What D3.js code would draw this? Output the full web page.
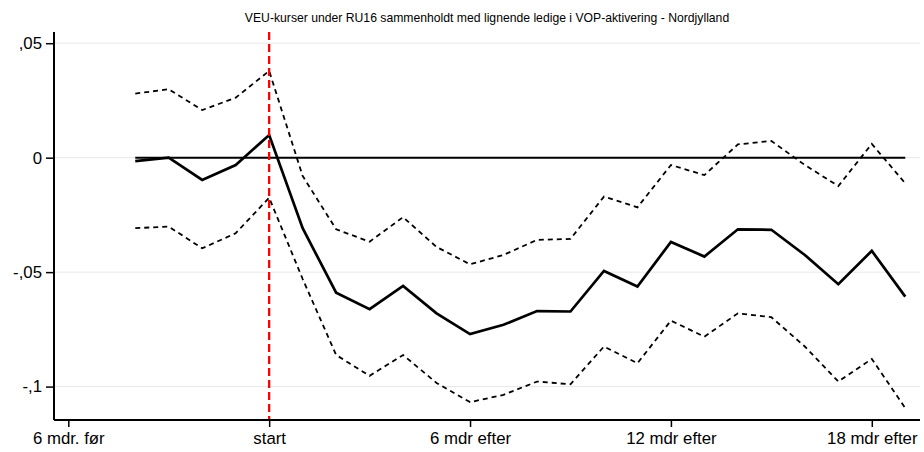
<!DOCTYPE html>
<html>
<head>
<meta charset="utf-8">
<script src="https://cdn.jsdelivr.net/npm/d3@7"></script>
<style>
  html, body { margin: 0; padding: 0; background: #fff; }
  svg { display: block; font-family: "Liberation Sans", Arial, sans-serif; }
</style>
</head>
<body>
<svg id="chart" width="924" height="452"></svg>
<script>
// Months relative to course start
const months = [-4,-3,-2,-1,0,1,2,3,4,5,6,7,8,9,10,11,12,13,14,15,16,17,18,19];
// Estimated effect
const estimate = [-0.0015,0.0000,-0.0097,-0.0032,0.0099,-0.0308,-0.0590,-0.0662,-0.0560,-0.0680,-0.0771,-0.0730,-0.0670,-0.0672,-0.0495,-0.0563,-0.0368,-0.0432,-0.0313,-0.0315,-0.0425,-0.0553,-0.0407,-0.0607];
// Upper confidence bound
const upper = [0.0280,0.0299,0.0208,0.0262,0.0379,-0.0080,-0.0313,-0.0367,-0.0260,-0.0390,-0.0466,-0.0425,-0.0359,-0.0355,-0.0170,-0.0217,-0.0032,-0.0076,0.0058,0.0073,-0.0032,-0.0124,0.0060,-0.0112];
// Lower confidence bound
const lower = [-0.0308,-0.0301,-0.0396,-0.0330,-0.0175,-0.0530,-0.0862,-0.0953,-0.0862,-0.0984,-0.1068,-0.1036,-0.0978,-0.0990,-0.0825,-0.0898,-0.0712,-0.0782,-0.0680,-0.0697,-0.0825,-0.0978,-0.0879,-0.1094];

const xTicks = [-6, 0, 6, 12, 18];
const xTickLabels = ["6 mdr. før", "start", "6 mdr efter", "12 mdr efter", "18 mdr efter"];
const yTicks = [0.05, 0, -0.05, -0.1];
const yTickLabels = [",05", "0", "-,05", "-,1"];
const title = "VEU-kurser under RU16 sammenholdt med lignende ledige i VOP-aktivering - Nordjylland";

const svg = d3.select("#chart");
const plot = { left: 54, right: 920, top: 32, bottom: 420 };

const x = d3.scaleLinear().domain([-6.427, 19.44]).range([plot.left, plot.right]);
const y = d3.scaleLinear().domain([-0.1146, 0.0549]).range([plot.bottom, plot.top]);

// Horizontal grid
svg.append("g")
  .selectAll("line")
  .data(yTicks)
  .join("line")
  .attr("x1", plot.left).attr("x2", plot.right)
  .attr("y1", d => y(d)).attr("y2", d => y(d))
  .attr("stroke", "#e8e8e8").attr("stroke-width", 1);

// Reference line at zero over the observed months
svg.append("line")
  .attr("x1", x(d3.min(months))).attr("x2", x(d3.max(months)))
  .attr("y1", y(0)).attr("y2", y(0))
  .attr("stroke", "#000").attr("stroke-width", 2);

const line = d3.line().x((d, i) => x(months[i])).y(d => y(d));

// Confidence bounds
[upper, lower].forEach(s => {
  svg.append("path")
    .attr("d", line(s))
    .attr("fill", "none")
    .attr("stroke", "#000")
    .attr("stroke-width", 1.8)
    .attr("stroke-dasharray", "5,4");
});

// Estimate
svg.append("path")
  .attr("d", line(estimate))
  .attr("fill", "none")
  .attr("stroke", "#000")
  .attr("stroke-width", 2.7)
  .attr("stroke-linejoin", "miter");

// Course start marker
svg.append("line")
  .attr("x1", x(0)).attr("x2", x(0))
  .attr("y1", plot.top).attr("y2", plot.bottom)
  .attr("stroke", "#ff0000")
  .attr("stroke-width", 2.3)
  .attr("stroke-dasharray", "8,4");

// Axes
const xAxis = d3.axisBottom(x)
  .tickValues(xTicks)
  .tickFormat((d, i) => xTickLabels[i])
  .tickSizeInner(7).tickSizeOuter(0).tickPadding(5);
const yAxis = d3.axisLeft(y)
  .tickValues(yTicks)
  .tickFormat((d, i) => yTickLabels[i])
  .tickSizeInner(8).tickSizeOuter(0).tickPadding(4);

const gx = svg.append("g").attr("transform", `translate(0,${plot.bottom})`).call(xAxis);
const gy = svg.append("g").attr("transform", `translate(${plot.left},0)`).call(yAxis);

gx.select(".domain").attr("d", `M${plot.left},0H${plot.right}`).attr("stroke", "#000").attr("stroke-width", 2);
gy.select(".domain").attr("d", `M0,${plot.top}V${plot.bottom}`).attr("stroke", "#000").attr("stroke-width", 2);
[gx, gy].forEach(g => {
  g.selectAll(".tick line").attr("stroke", "#000").attr("stroke-width", 1.5);
  g.selectAll(".tick text")
    .attr("fill", "#000")
    .style("font-family", "'Liberation Sans', Arial, sans-serif")
    .style("font-size", "16.8px");
});

// Title
svg.append("text")
  .attr("x", (plot.left + plot.right) / 2)
  .attr("y", 22)
  .attr("text-anchor", "middle")
  .style("font-size", "12.2px")
  .attr("fill", "#000")
  .text(title);
</script>
</body>
</html>
